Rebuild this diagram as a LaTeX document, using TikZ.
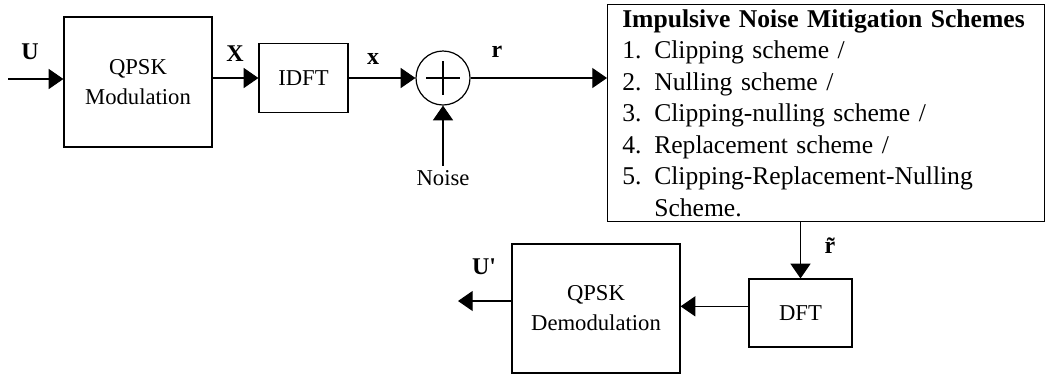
\documentclass[tikz,border=0pt]{standalone}
\usepackage{fontspec}
\setmainfont{Liberation Serif}
\usetikzlibrary{arrows.meta, positioning}

\begin{document}
\begin{tikzpicture}[x=0.75pt, y=-0.75pt,
  block/.style={draw, line width=0.9pt, align=center, font=\fontsize{17}{22.5}\selectfont},
  sig/.style={font=\fontsize{18}{20}\selectfont\bfseries},
  flow/.style={line width=0.8pt, -{Triangle[length=11pt, width=15pt]}}]
\useasboundingbox (0,0) rectangle (1046,376);
% transmitter
\node[block, minimum width=111pt, minimum height=97.5pt] (qpsk) at (138,82) {QPSK\\Modulation};
\node[block, minimum width=66.75pt, minimum height=51.75pt] (idft) at (303.5,78) {IDFT};
\node[draw, circle, inner sep=0pt, minimum size=40.5pt, line width=0.9pt] (sum) at (443,78) {};
\draw[line width=0.8pt] ([xshift=-12.5pt]sum.center) -- ([xshift=12.5pt]sum.center)
  ([yshift=-12.5pt]sum.center) -- ([yshift=12.5pt]sum.center);
\node[font=\fontsize{17}{20}\selectfont] (noise) at (443,178) {Noise};
% mitigation
\node[draw, line width=0.9pt, anchor=north west, text width=305.75pt, inner xsep=11pt,
  minimum height=162.75pt, align=left, font=\fontsize{19.2}{23.6}\selectfont] (mitig) at (607,4)
  {\mbox{\textbf{Impulsive Noise Mitigation Schemes}}\\
   \makebox[24pt][l]{1.}Clipping scheme /\\
   \makebox[24pt][l]{2.}Nulling scheme /\\
   \makebox[24pt][l]{3.}Clipping-nulling scheme /\\
   \makebox[24pt][l]{4.}Replacement scheme /\\
   \makebox[24pt][l]{5.}Clipping-Replacement-Nulling\\
   \hspace*{24pt}Scheme.};
% receiver
\node[block, minimum width=77.25pt, minimum height=51pt] (dft) at (800.5,313) {DFT};
\node[block, minimum width=126pt, minimum height=96.75pt] (demod) at (596,308.5) {QPSK\\Demodulation};
\coordinate (uin) at (8,79);
\coordinate (uout) at (458,301);
% signal labels
\node[sig] (lblU) at (30,52) {U};
\node[sig] (lblX) at (235,54) {X};
\node[sig] (lblx) at (373,59) {x};
\node[sig] (lblr) at (497,52) {r};
\node[sig] (lblrt) at (830,246) {\~{r}};
\node[sig] (lblUo) at (484,267) {U\textquotesingle};
% connections
\draw[flow] (uin) -- (uin -| qpsk.west);
\draw[flow] (idft.west -| qpsk.east) -- (idft.west);
\draw[flow] (idft) -- (sum);
\draw[flow] (noise) -- (sum);
\draw[flow] (sum) -- (sum -| mitig.west);
\draw[flow] (dft |- mitig.south) -- (dft);
\draw[flow] ([yshift=5pt]dft.west) -- ([yshift=5pt]dft.west -| demod.east);
\draw[flow] (uout -| demod.west) -- (uout);
\end{tikzpicture}
\end{document}
